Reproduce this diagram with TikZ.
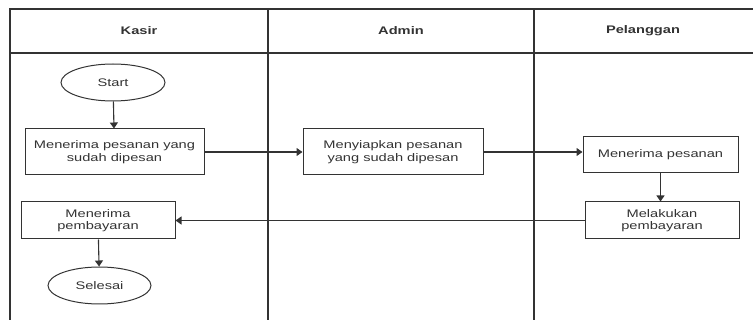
\documentclass[tikz,border=0pt]{standalone}
\usepackage{fontspec}
\setmainfont[FakeStretch=1.33]{Liberation Sans}
\usepackage{tikz}
\usetikzlibrary{arrows.meta,positioning,shapes.geometric}
\usepackage{xcolor}
\definecolor{linegray}{HTML}{333333}

\begin{document}
\begin{tikzpicture}[x=1pt,y=-1pt,line width=1.3pt,draw=linegray,font=\fontsize{11}{12.5}\selectfont,text=linegray]
	\useasboundingbox (0,0) rectangle (753,320);
	% lanes
	\draw[linegray] (10,320) -- (10,9) -- (753,9);
	\draw[linegray] (10,53) -- (753,53);
	\draw[linegray] (268,9) -- (268,320);
	\draw[linegray] (534,9) -- (534,320);
	\begin{scope}[every node/.style={font=\fontsize{11}{12.5}\selectfont\bfseries}]
		\node (kasir) at (139,31) {Kasir};
		\node (admin) at (401,31) {Admin};
		\node (pelanggan) at (643,31) {Pelanggan};
	\end{scope}
	\begin{scope}[every node/.style={draw=linegray,line width=1pt,align=center,inner sep=0pt}]
		\node[ellipse,minimum width=104,minimum height=37] (start) at (113,82.5) {Start};
		\node[rectangle,minimum width=179,minimum height=46] (b1) at (114.5,152) {Menerima pesanan yang\\sudah dipesan};
		\node[rectangle,minimum width=180,minimum height=46] (b2) at (393,152) {Menyiapkan pesanan\\yang sudah dipesan};
		\node[rectangle,minimum width=155,minimum height=36] (b3) at (660.5,155) {Menerima pesanan};
		\node[rectangle,minimum width=154,minimum height=37] (b4) at (662,220.5) {Melakukan\\pembayaran};
		\node[rectangle,minimum width=154,minimum height=37] (b5) at (98,220.5) {Menerima\\pembayaran};
		\node[ellipse,minimum width=103,minimum height=37] (selesai) at (99.5,285.5) {Selesai};
	\end{scope}
	\begin{scope}[line width=1.1pt,linegray]
		\draw[-{Triangle[width=8pt,length=6pt]}] (start) -- (b1);
		\draw[-{Triangle[width=8pt,length=6pt]}] (b1) -- (b2);
		\draw[-{Triangle[width=8pt,length=6pt]}] (b2.east) -- (b2.east -| b3.west);
		\draw[-{Triangle[width=8pt,length=6pt]}] (b3.south) -- (b3.south |- b4.north);
		\draw[-{Triangle[width=8pt,length=6pt]}] (b4) -- (b5);
		\draw[-{Triangle[width=8pt,length=6pt]}] (b5) -- (selesai);
	\end{scope}
\end{tikzpicture}
\end{document}
